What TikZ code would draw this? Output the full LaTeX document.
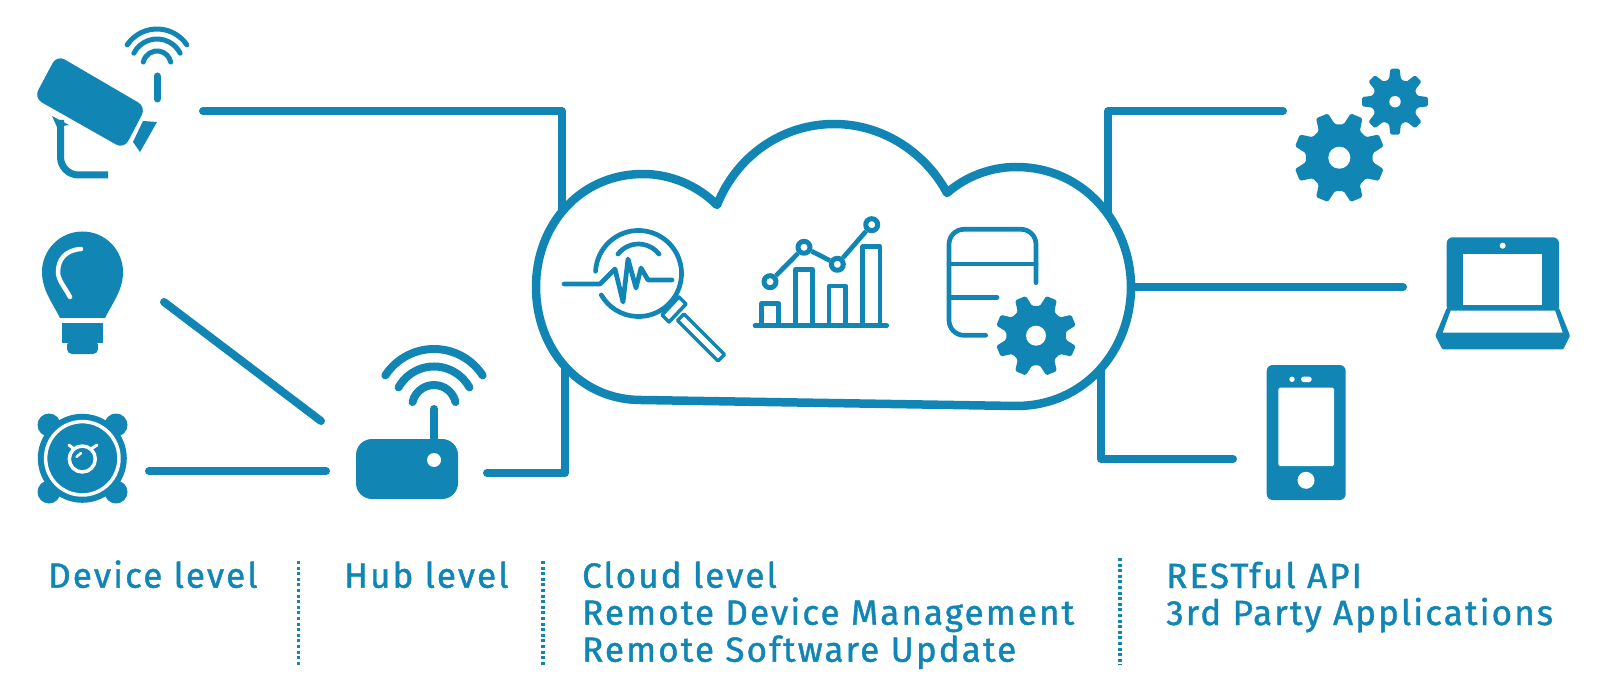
\documentclass[tikz,border=0pt]{standalone}
\usepackage{fontspec}
\setmainfont{Fira Sans}[LetterSpace=6, FakeBold=1.2]
\usetikzlibrary{calc}
\definecolor{iconblue}{RGB}{17,134,180}

% gear: x, y, hole radius, outer radius, root radius, angle of first tooth
\newcommand{\gearicon}[6]{%
    \begin{scope}[shift={(#1,#2)}]
        \fill[iconblue, rounded corners=1.5pt] (#6-15:#5) -- (#6-8:#4) -- (#6+8:#4) -- (#6+15:#5)
            \foreach \a in {45,90,...,315} {-- (\a+#6-15:#5) -- (\a+#6-8:#4) -- (\a+#6+8:#4) -- (\a+#6+15:#5)} -- cycle;
        \fill[white] (0,0) circle (#3);
    \end{scope}
}

\begin{document}
\begin{tikzpicture}[x=1pt, y=-1pt, line join=round]

        % Styles
        \tikzset{
            wire/.style={draw=iconblue, line width=8pt, line cap=round},
            wave/.style={draw=iconblue, line width=5pt, line cap=round},
            outline/.style={draw=iconblue, line width=4.7pt, line cap=round},
            solid icon/.style={fill=iconblue},
            highlight/.style={draw=white, line width=3.5pt, line cap=round},
            dot/.style={circle, draw=iconblue, line width=5pt, fill=white, inner sep=0pt, minimum size=12pt},
            level/.style={anchor=base west, align=left, inner sep=0pt, text=iconblue, font=\fontsize{35}{37}\selectfont},
            separator/.style={draw=iconblue, line width=3.5pt, dash pattern=on 3pt off 2.6pt}
        }

        \useasboundingbox (0,0) rectangle (1600,700);
        \fill[white] (0,0) rectangle (1600,700);

        % --- Wire ends ---
        \coordinate (camout) at (203,111);
        \coordinate (bulbout) at (164,302);
        \coordinate (spkout) at (149,471);
        \coordinate (hubnw) at (321,421);
        \coordinate (hubw) at (326,471);
        \coordinate (hubout) at (487,473);
        \coordinate (gearsout) at (1283,111);
        \coordinate (laptopin) at (1403,287);
        \coordinate (phonein) at (1233,459);
        \coordinate (cloudnw) at (562,220);
        \coordinate (cloudsw) at (565,355);
        \coordinate (cloudne) at (1108,220);
        \coordinate (cloude) at (1120,287);
        \coordinate (cloudse) at (1101,355);

        % --- Wires (the cloud is filled over them) ---
        \draw[wire] (camout) -| (cloudnw);
        \draw[wire] (bulbout) -- (hubnw);
        \draw[wire] (spkout) -- (hubw);
        \draw[wire] (hubout) -| (cloudsw);
        \draw[wire] (gearsout) -| (cloudne);
        \draw[wire] (cloude) -- (laptopin);
        \draw[wire] (phonein) -| (cloudse);

        % --- Cloud ---
        \draw[draw=iconblue, line width=8.5pt, fill=white] (717,205)
            .. controls (737,155) and (783,124) .. (834,124)
            .. controls (885,124) and (927,155) .. (947,193)
            .. controls (965,177) and (990,167) .. (1016,167)
            .. controls (1085,167) and (1131,225) .. (1131,287)
            .. controls (1131,350) and (1085,406) .. (1016,406)
            -- (641,400)
            .. controls (580,400) and (536,350) .. (536,287)
            .. controls (536,225) and (580,174) .. (643,174)
            .. controls (670,174) and (697,185) .. (717,205) -- cycle;

        % --- Camera ---
        \fill[solid icon, rounded corners=9pt] (57,55) -- (146,107) -- (124,149) -- (34,98) -- cycle;
        \fill[solid icon] (143,121) -- (157,122) -- (140,152) -- (133,142) -- cycle;
        \fill[solid icon] (52,116) -- (69,125) -- (57,127) -- cycle;
        \draw[draw=iconblue, line width=7pt, rounded corners=18pt] (60.5,120) -- (60.5,175) -- (108,175);
        \coordinate (camwifi) at (157,65);
        \foreach \r/\a/\b in {36/214/326, 26/207/333, 14/192/348}
            \draw[wave] ($(camwifi)+(\a:\r)$) arc (\a:\b:\r);
        \draw[wave, line width=7pt] (157,76) -- (157,99);

        % --- Bulb ---
        \fill[solid icon] (60,318) .. controls (52,302) and (42,290) .. (42,272)
            arc (180:360:40.5) .. controls (123,290) and (113,302) .. (105,318) -- cycle;
        \fill[solid icon] (62,323) rectangle (103,343);
        \fill[solid icon, rounded corners=5pt] (67,340) -- (67,354) -- (98,354) -- (98,340) -- cycle;
        \draw[highlight, line width=4.5pt] (81,249) .. controls (65,250) and (58,260) .. (58,272) .. controls (58,280) and (64,286) .. (70,297);

        % --- Speaker ---
        \foreach \sx/\sy in {49/425, 116/425, 49/492, 116/492}
            \fill[solid icon] (\sx,\sy) circle (11.5);
        \fill[solid icon] (82.3,458.3) circle (44.5);
        \draw[highlight] (82.3,458.3) circle (36.7);
        \draw[highlight] (82.3,459) circle (13);
        \draw[highlight, line width=3pt] (69,445) -- (74,449);
        \draw[highlight, line width=3pt] (97,445) -- (91,449);
        \draw[highlight, line width=2.5pt] (76.5,457) -- (81,453);

        % --- Hub ---
        \draw[wave, line width=8pt] (434,409) -- (434,445);
        \fill[solid icon, rounded corners=16pt] (356,439) rectangle (458,499);
        \fill[white] (434,460) circle (7);
        \coordinate (hubwifi) at (434,407);
        \foreach \r/\a/\b in {58/213/327, 40.5/209/331, 22/193/347}
            \draw[wave, line width=8pt] ($(hubwifi)+(\a:\r)$) arc (\a:\b:\r);

        % --- Magnifier ---
        \coordinate (lens) at (638.5,273.5);
        \draw[outline] ($(lens)+(183:43)$) arc (183:510:43);
        \draw[outline] (618,254) arc (218:322:26);
        \draw[outline] (564,284) -- (600,284) -- (615,269) -- (623,302) -- (628,259) -- (636,288) -- (641,268) -- (648,280) -- (672,280);
        \draw[outline, fill=white, line width=3.5pt] (679,297) -- (686,304) -- (669,322) -- (662,315) -- cycle;
        \draw[outline, fill=white, line width=3.5pt] (684,314) -- (724.5,354.5) -- (718,361) -- (677.5,320.5) -- cycle;

        % --- Chart ---
        \foreach \xa/\xb/\ytop in {761.7/778.3/303.3, 795.7/812.3/269.3, 829/845.7/286, 862.7/880/246.7}
            \draw[outline] (\xa,325.7) -- (\xa,\ytop) -- (\xb,\ytop) -- (\xb,325.7);
        \draw[outline] (755,325.7) -- (886.7,325.7);
        \node[dot] (pta) at (770,281.7) {};
        \node[dot] (ptb) at (804,247.3) {};
        \node[dot] (ptc) at (837.3,264.3) {};
        \node[dot] (ptd) at (871.7,224.7) {};
        \draw[outline, line cap=butt] (pta) -- (ptb);
        \draw[outline, line cap=butt] (ptb) -- (ptc);
        \draw[outline, line cap=butt] (ptc) -- (ptd);

        % --- Database and gear ---
        \draw[outline, rounded corners=15pt] (1036,282.7) -- (1036,229.3) -- (949,229.3) -- (949,335.3) -- (985.7,335.3);
        \draw[outline] (949,264) -- (1036,264);
        \draw[outline] (949,297.3) -- (997,297.3);
        \gearicon{1036}{335.7}{10}{41}{30}{22.5}

        % --- Gears ---
        \gearicon{1339.3}{157.7}{11}{45.7}{33.7}{22.5}
        \gearicon{1395}{101.7}{5.7}{33.3}{23}{0}

        % --- Laptop ---
        \fill[solid icon, rounded corners=6pt] (1446.7,312) -- (1446.7,237.3) -- (1559,237.3) -- (1559,312) -- cycle;
        \fill[solid icon, rounded corners=1pt] (1446.7,308) -- (1559,308) -- (1570,335.7) -- (1563.3,349.3) -- (1442.3,349.3) -- (1435.3,335.7) -- cycle;
        \fill[white] (1463.3,254) rectangle (1542,305);
        \fill[white] (1502.7,245.7) circle (3);
        \fill[white] (1450.7,310.7) -- (1555,310.7) -- (1562.7,332.7) -- (1442.7,332.7) -- cycle;

        % --- Phone ---
        \fill[solid icon, rounded corners=6pt] (1266.7,365) rectangle (1345.7,500);
        \fill[white, rounded corners=1.5pt] (1278.3,387.7) rectangle (1334,466);
        \fill[white] (1306,480.3) circle (8.5);
        \fill[white] (1292,379.3) circle (2.7);
        \fill[white, rounded corners=2.6pt] (1301,376.7) rectangle (1311.7,382);

        % --- Levels ---
        \node[level] (device) at (48,587.7) {Device level};
        \node[level] (hub) at (344,587.7) {Hub level};
        \node[level] (cloud) at (582,661.7) {Cloud level\\Remote Device Management\\Remote Software Update};
        \node[level] (api) at (1166,625) {RESTful API\\3rd Party Applications};

        \draw[separator] (298.5,561) -- (298.5,667);
        \draw[separator] (543,561) -- (543,667);
        \draw[separator] (1120,558) -- (1120,665);

    \end{tikzpicture}
\end{document}
